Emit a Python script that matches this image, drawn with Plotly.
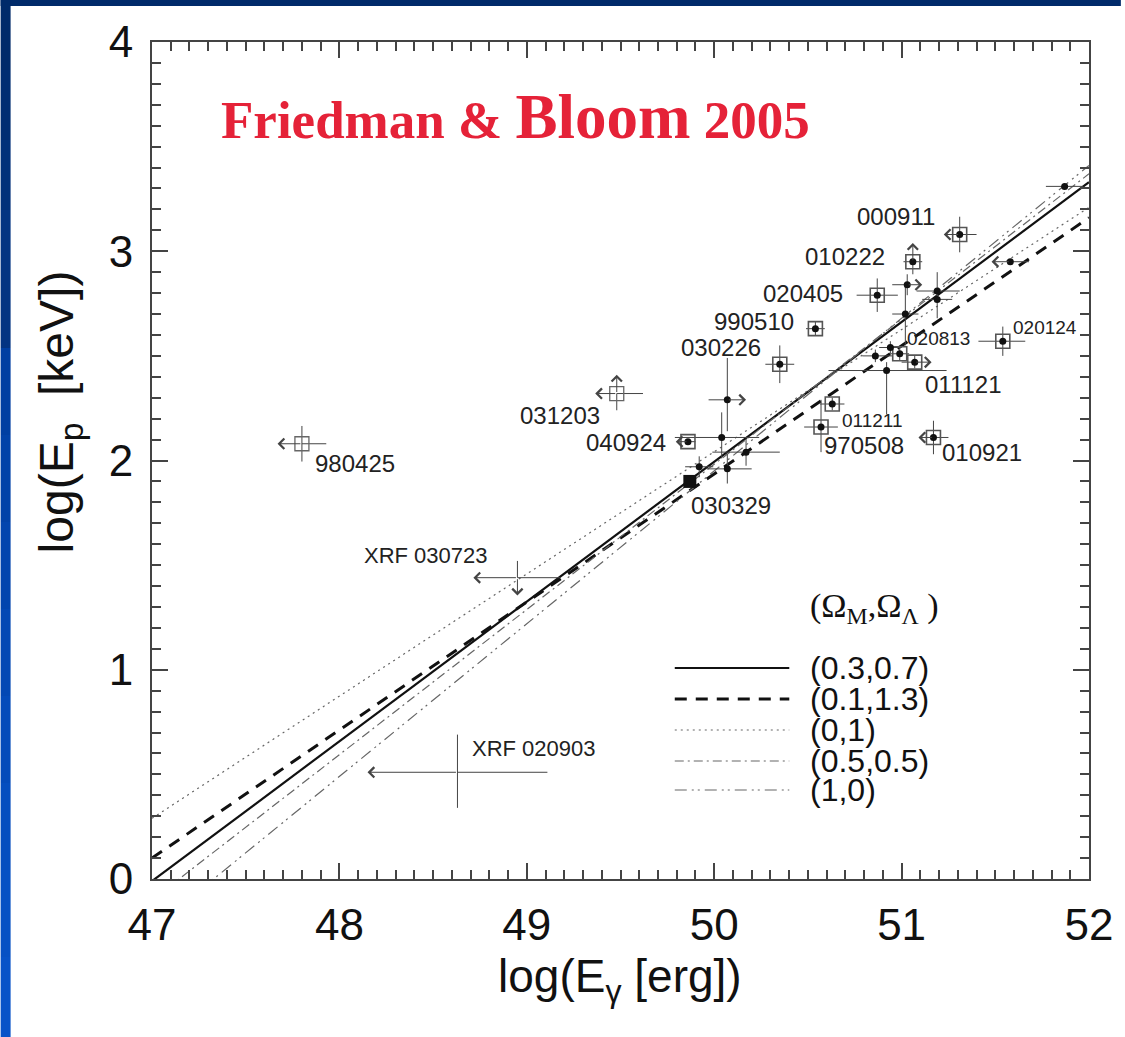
import plotly.graph_objects as go

# ---------------- data ----------------
# GRB points: position, error extents (minus / plus), marker kind, limit arrows
grb_x  = [51.87, 51.31, 51.06, 51.03, 51.02, 50.87, 51.19, 51.19, 50.54, 51.54, 51.58, 50.35,
          50.94, 50.99, 50.86, 51.07, 50.92, 50.63, 50.57, 51.17, 49.48, 50.07, 49.86, 50.04,
          50.17, 50.07, 49.92, 49.87, 47.80, 48.95, 48.63]
grb_y  = [3.31, 3.08, 2.95, 2.84, 2.70, 2.79, 2.81, 2.77, 2.63, 2.57, 2.95, 2.46,
          2.54, 2.51, 2.50, 2.47, 2.43, 2.27, 2.16, 2.11, 2.32, 2.29, 2.09, 2.11,
          2.04, 1.96, 1.97, 1.90, 2.08, 1.44, 0.51]
grb_xm = [0.10, 0.085, 0.05, 0.08, 0.07, 0.11, 0.11, 0.08, 0.05, 0.13, 0.10, 0.077,
          0.06, 0.05, 0.07, 0.07, 0.31, 0.065, 0.09, 0.08, 0.115, 0.10, 0.065, 0.25,
          0.18, 0.11, 0.075, 0.0, 0.13, 0.235, 0.48]
grb_xp = [0.10, 0.09, 0.05, 0.08, 0.07, 0.11, 0.12, 0.08, 0.05, 0.12, 0.10, 0.077,
          0.06, 0.05, 0.09, 0.09, 0.32, 0.065, 0.09, 0.08, 0.14, 0.10, 0.04, 0.20,
          0.18, 0.13, 0.075, 0.0, 0.13, 0.23, 0.48]
grb_ym = [0.0, 0.085, 0.06, 0.05, 0.15, 0.08, 0.04, 0.09, 0.035, 0.07, 0.0, 0.09,
          0.03, 0.03, 0.03, 0.03, 0.21, 0.03, 0.12, 0.08, 0.08, 0.15, 0.0, 0.10,
          0.065, 0.07, 0.05, 0.0, 0.085, 0.085, 0.17]
grb_yp = [0.0, 0.085, 0.09, 0.05, 0.14, 0.08, 0.09, 0.04, 0.035, 0.07, 0.0, 0.09,
          0.03, 0.03, 0.03, 0.03, 0.04, 0.03, 0.13, 0.08, 0.09, 0.20, 0.0, 0.12,
          0.065, 0.07, 0.05, 0.0, 0.085, 0.08, 0.18]
grb_kind = ["dot", "sq", "sq", "dot", "dot", "sq", "dot", "dot", "sq", "sq", "dot", "sq",
            "dot", "sq", "dot", "sq", "dot", "sq", "sq", "sq", "sqo", "dot", "sq", "dot",
            "dot", "dot", "dot", "big", "sqo", "none", "none"]
grb_lim = ["", "L", "U", "R", "", "", "", "", "", "", "L", "",
           "", "", "", "R", "", "", "", "L", "LU", "R", "L", "",
           "", "", "", "", "L", "LD", "L"]

# GRB name labels
lab_text = ["000911", "010222", "020405", "990510", "030226", "031203", "040924", "030329",
            "980425", "XRF 030723", "XRF 020903", "020813", "020124", "011121", "011211",
            "970508", "010921"]
lab_x = [50.97, 50.70, 50.475, 50.21, 50.034, 49.178, 49.529, 50.087,
         48.084, 48.461, 49.04, 51.198, 51.766, 51.33, 50.847, 50.80, 51.43]
lab_y = [3.164, 2.973, 2.80, 2.662, 2.542, 2.217, 2.084, 1.787,
         1.988, 1.548, 0.626, 2.585, 2.638, 2.361, 2.189, 2.074, 2.04]
lab_size = [24, 24, 24, 24, 24, 24, 24, 24, 24, 22, 22, 19, 19, 24, 19, 24, 24]

# best-fit relations for the five cosmologies (values at x = 47 and x = 52)
fit_x = [47, 52]
fit_names = ["(0.3,0.7)", "(0.1,1.3)", "(0,1)", "(0.5,0.5)", "(1,0)"]
fit_y_03_07 = [-0.01, 3.33]
fit_y_01_13 = [0.10, 3.16]
fit_y_0_1 = [0.29, 3.21]
fit_y_05_05 = [-0.10, 3.37]
fit_y_1_0 = [-0.24, 3.41]

x_ticks = [47, 48, 49, 50, 51, 52]
y_ticks = [0, 1, 2, 3, 4]

# ---------------- figure ----------------
W, H = 1125, 1037
ML, MR, MT, MB = 152, 32, 42, 158
PW, PH = W - ML - MR, H - MT - MB


def px(xp):
    return (xp - ML) / PW


def py(yp):
    return (H - MB - yp) / PH


fig = go.Figure()

fit_styles = [
    dict(color="#111", width=2.2, dash="solid"),
    dict(color="#111", width=3, dash="12px,9px"),
    dict(color="#666", width=1.2, dash="2px,4px"),
    dict(color="#666", width=1.2, dash="9px,4px,2px,4px"),
    dict(color="#666", width=1.2, dash="12px,5px,2px,4px,2px,5px"),
]
fit_ys = [fit_y_03_07, fit_y_01_13, fit_y_0_1, fit_y_05_05, fit_y_1_0]
for name, ys, st in zip(fit_names, fit_ys, fit_styles):
    fig.add_trace(go.Scatter(x=fit_x, y=ys, mode="lines", line=st, name=name,
                             showlegend=False, hoverinfo="skip"))

# error bars (non-limit sides)
exm, exp_, eym, eyp = [], [], [], []
for i in range(len(grb_x)):
    lim = grb_lim[i]
    exm.append(0 if "L" in lim else grb_xm[i])
    exp_.append(0 if "R" in lim else grb_xp[i])
    eym.append(0 if "D" in lim else grb_ym[i])
    eyp.append(0 if "U" in lim else grb_yp[i])

fig.add_trace(go.Scatter(
    x=grb_x, y=grb_y, mode="markers",
    marker=dict(size=1, color="rgba(0,0,0,0)"),
    error_x=dict(type="data", symmetric=False, array=exp_, arrayminus=exm,
                 thickness=1, width=0, color="#444"),
    error_y=dict(type="data", symmetric=False, array=eyp, arrayminus=eym,
                 thickness=1, width=0, color="#444"),
    showlegend=False, hoverinfo="skip"))

# markers by kind
def sel(kind):
    idx = [i for i, k in enumerate(grb_kind) if k == kind]
    return [grb_x[i] for i in idx], [grb_y[i] for i in idx]

sx, sy = sel("sq")
fig.add_trace(go.Scatter(x=sx, y=sy, mode="markers",
                         marker=dict(symbol="square-open", size=14, color="#555",
                                     line=dict(width=1.6, color="#555")),
                         showlegend=False, hoverinfo="skip"))
ox, oy = sel("sqo")
fig.add_trace(go.Scatter(x=ox, y=oy, mode="markers",
                         marker=dict(symbol="square-open", size=14, color="#666",
                                     line=dict(width=1.3, color="#666")),
                         showlegend=False, hoverinfo="skip"))
dx = sx + sel("dot")[0]
dy = sy + sel("dot")[1]
fig.add_trace(go.Scatter(x=dx, y=dy, mode="markers",
                         marker=dict(symbol="circle", size=7, color="#111"),
                         showlegend=False, hoverinfo="skip"))
bx, by = sel("big")
fig.add_trace(go.Scatter(x=bx, y=by, mode="markers",
                         marker=dict(symbol="square", size=13, color="#111"),
                         showlegend=False, hoverinfo="skip"))

annotations = []
# limit arrows
for i in range(len(grb_x)):
    for d in grb_lim[i]:
        x0, y0 = grb_x[i], grb_y[i]
        if d == "L":
            hx, hy = x0 - grb_xm[i], y0
        elif d == "R":
            hx, hy = x0 + grb_xp[i], y0
        elif d == "U":
            hx, hy = x0, y0 + grb_yp[i]
        else:
            hx, hy = x0, y0 - grb_ym[i]
        annotations.append(dict(x=hx, y=hy, ax=x0, ay=y0, xref="x", yref="y",
                                axref="x", ayref="y", text="", showarrow=True,
                                arrowhead=4, arrowsize=2, arrowwidth=1,
                                arrowcolor="#444", font=dict(size=1)))

# GRB labels
for t, lx, ly, s in zip(lab_text, lab_x, lab_y, lab_size):
    annotations.append(dict(x=lx, y=ly, xref="x", yref="y", text=t, showarrow=False,
                            font=dict(family="Liberation Sans", size=s, color="#222"),
                            xanchor="center", yanchor="middle"))

# legend (manual)
leg_y = [668, 699, 730, 761, 790]
shapes = []
for st, ly, name in zip(fit_styles, leg_y, fit_names):
    shapes.append(dict(type="line", xref="paper", yref="paper",
                       x0=px(677), x1=px(792), y0=py(ly), y1=py(ly),
                       line=dict(color=st["color"], width=st["width"], dash=st["dash"])))
    annotations.append(dict(x=px(811), y=py(ly), xref="paper", yref="paper", text=name,
                            showarrow=False, xanchor="left", yanchor="middle",
                            font=dict(family="Liberation Sans", size=32, color="#111")))
annotations.append(dict(x=px(811), y=py(608), xref="paper", yref="paper",
                        text="(\u03a9<sub>M</sub>,\u03a9<sub>\u039b</sub> )", showarrow=False,
                        xanchor="left", yanchor="middle",
                        font=dict(family="Liberation Serif", size=34, color="#111")))

# axis titles
annotations.append(dict(x=px(60), y=py(412), xref="paper", yref="paper",
                        text="log(E<sub>p</sub>  [keV])", showarrow=False, textangle=-90,
                        xanchor="center", yanchor="middle",
                        font=dict(family="Liberation Sans", size=48, color="#111")))
annotations.append(dict(x=px(622), y=py(979), xref="paper", yref="paper",
                        text="log(E<sub>\u03b3</sub> [erg])", showarrow=False,
                        xanchor="center", yanchor="middle",
                        font=dict(family="Liberation Sans", size=46, color="#111")))

# red title
annotations.append(dict(x=px(219), y=py(117), xref="paper", yref="paper",
                        text="<b>Friedman &amp; <span style='font-size:63px'>Bloom</span> 2005</b>",
                        showarrow=False, xanchor="left", yanchor="middle",
                        font=dict(family="Liberation Serif", size=53, color="#e52238")))

# blue slide frame (top and left strips)
shapes.append(dict(type="rect", xref="paper", yref="paper", layer="below",
                   x0=px(0), x1=px(W), y0=py(6), y1=py(0),
                   fillcolor="#002a6a", line=dict(width=0)))
band_cols = ["#002a6a", "#012d72", "#02317a", "#033482", "#003fa2", "#0142a8",
             "#0245ae", "#0348b4", "#044bba", "#054ebf", "#0651c4", "#0753c8"]
band_edges = [0, 70, 140, 210, 348, 435, 522, 609, 696, 783, 870, 957, 1037]
for c, a, b in zip(band_cols, band_edges[:-1], band_edges[1:]):
    shapes.append(dict(type="rect", xref="paper", yref="paper", layer="below",
                       x0=px(0), x1=px(10), y0=py(b), y1=py(a),
                       fillcolor=c, line=dict(width=0)))

axis_common = dict(showline=True, linecolor="#444", linewidth=2, mirror="ticks",
                   ticks="inside", ticklen=16, tickwidth=2, tickcolor="#444",
                   showgrid=False, zeroline=False,
                   tickfont=dict(family="Liberation Sans", size=44, color="#111"))

fig.update_layout(
    width=W, height=H,
    margin=dict(l=ML, r=MR, t=MT, b=MB),
    paper_bgcolor="white", plot_bgcolor="white",
    showlegend=False,
    xaxis=dict(range=[47, 52], tickvals=x_ticks, ticklabelstandoff=6,
               minor=dict(dtick=0.1, ticks="inside", ticklen=9, tickwidth=1.5, tickcolor="#444"),
               **axis_common),
    yaxis=dict(range=[0, 4], tickvals=y_ticks, ticklabelstandoff=8,
               minor=dict(dtick=0.1, ticks="inside", ticklen=9, tickwidth=1.5, tickcolor="#444"),
               **axis_common),
    annotations=annotations,
    shapes=shapes,
)

fig.write_html("out.html")
